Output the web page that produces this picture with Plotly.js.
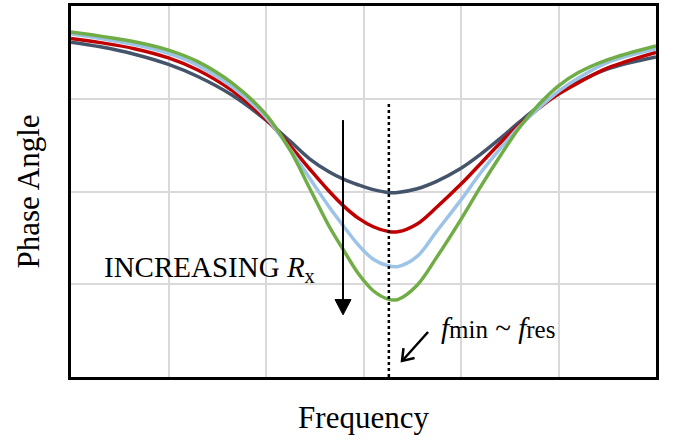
<!DOCTYPE html>
<html>
<head>
<meta charset="utf-8">
<script src="https://cdn.plot.ly/plotly-3.0.1.min.js"></script>
<style>
html, body { margin: 0; padding: 0; background: #ffffff; }
#chart { width: 680px; height: 441px; }
</style>
</head>
<body>
<div id="chart"></div>
<script>
// Frequency (arbitrary units, 6 grid divisions)
var frequency = [0, 0.3, 0.65, 1.0, 1.3, 1.65, 2.0, 2.25, 2.45, 2.65, 2.8, 2.95, 3.1, 3.25, 3.35, 3.55, 3.75, 4.0, 4.2, 4.4, 4.6, 4.8, 5.0, 5.2, 5.5, 6.0];
// Phase angle (arbitrary units, 4 grid divisions), one series per Rx value (increasing Rx)
var phaseR1 = [3.61, 3.56, 3.48, 3.37, 3.24, 3.04, 2.77, 2.54, 2.35, 2.21, 2.13, 2.07, 2.02, 1.99, 1.99, 2.03, 2.11, 2.25, 2.40, 2.57, 2.75, 2.92, 3.06, 3.18, 3.32, 3.45];
var phaseR2 = [3.65, 3.605, 3.54, 3.44, 3.31, 3.09, 2.78, 2.49, 2.24, 2.00, 1.84, 1.71, 1.62, 1.57, 1.565, 1.65, 1.83, 2.08, 2.30, 2.52, 2.72, 2.90, 3.05, 3.17, 3.33, 3.50];
var phaseR3 = [3.70, 3.65, 3.585, 3.49, 3.36, 3.13, 2.80, 2.45, 2.14, 1.83, 1.62, 1.42, 1.27, 1.20, 1.19, 1.30, 1.57, 1.91, 2.20, 2.46, 2.70, 2.90, 3.08, 3.22, 3.39, 3.54];
var phaseR4 = [3.72, 3.675, 3.615, 3.525, 3.40, 3.17, 2.83, 2.44, 2.03, 1.62, 1.36, 1.11, 0.93, 0.84, 0.835, 0.99, 1.29, 1.70, 2.05, 2.38, 2.69, 2.94, 3.14, 3.28, 3.42, 3.57];
var seriesColors = ['#44546A', '#C00000', '#9DC3E6', '#70AD47'];

// resonance marker
var fRes = 3.26;
var fResLineY = [0, 2.95];

var series = [phaseR1, phaseR2, phaseR3, phaseR4];
var traces = series.map(function (ys, i) {
  return {
    x: frequency, y: ys, type: 'scatter', mode: 'lines',
    line: { color: seriesColors[i], width: 3.5, shape: 'spline', smoothing: 1 },
    hoverinfo: 'skip', showlegend: false
  };
});
traces.push({
  x: [fRes, fRes], y: fResLineY, type: 'scatter', mode: 'lines',
  line: { color: '#000000', width: 2.5, dash: 'dot' },
  hoverinfo: 'skip', showlegend: false
});

var serif = "Liberation Serif, Tinos, DejaVu Serif, serif";

var layout = {
  width: 680, height: 441,
  margin: { l: 71, r: 24, t: 6, b: 64 },
  paper_bgcolor: '#ffffff', plot_bgcolor: '#ffffff',
  font: { family: serif, color: '#000000' },
  xaxis: {
    range: [0, 6], dtick: 1, tick0: 0,
    showticklabels: false, ticks: '',
    showgrid: true, gridcolor: '#d9d9d9', gridwidth: 2,
    zeroline: false,
    showline: true, linecolor: '#000000', linewidth: 3, mirror: true,
    title: { text: 'Frequency', font: { family: serif, size: 31, color: '#000000' }, standoff: 28 }
  },
  yaxis: {
    range: [0, 4], dtick: 1, tick0: 0,
    showticklabels: false, ticks: '',
    showgrid: true, gridcolor: '#d9d9d9', gridwidth: 2,
    zeroline: false,
    showline: true, linecolor: '#000000', linewidth: 3, mirror: true,
    title: { text: 'Phase Angle', font: { family: serif, size: 31, color: '#000000' }, standoff: 20 }
  },
  shapes: [
    // "increasing Rx" arrow: shaft + filled head
    { type: 'line', xref: 'x', yref: 'y', x0: 2.79, y0: 2.77, x1: 2.79, y1: 0.80,
      line: { color: '#000000', width: 2 } },
    { type: 'path', xref: 'x', yref: 'y',
      path: 'M 2.708 0.835 L 2.872 0.835 L 2.79 0.67 Z',
      fillcolor: '#000000', line: { color: '#000000', width: 1 } },
    // small open arrow pointing at the dotted line
    { type: 'line', xref: 'x', yref: 'y', x0: 3.662, y0: 0.485, x1: 3.40, y1: 0.178,
      line: { color: '#000000', width: 2.5 } },
    { type: 'path', xref: 'x', yref: 'y',
      path: 'M 3.524 0.204 L 3.395 0.1725 L 3.41 0.312',
      line: { color: '#000000', width: 2.5 } }
  ],
  annotations: [
    {
      x: 0.318, y: 1.16, xref: 'x', yref: 'y', xanchor: 'left', yanchor: 'middle',
      showarrow: false,
      text: 'INCREASING <i>R</i><sub>x</sub>',
      font: { family: serif, size: 29, color: '#000000' }
    },
    {
      x: 3.77, y: 0.53, xref: 'x', yref: 'y', xanchor: 'left', yanchor: 'middle',
      showarrow: false,
      text: '<i>f</i><span style="font-size:25px">min</span> ~ <i>f</i><span style="font-size:25px">res</span>',
      font: { family: serif, size: 29, color: '#000000' }
    }
  ]
};

Plotly.newPlot('chart', traces, layout, { staticPlot: true, displayModeBar: false });
</script>
</body>
</html>
